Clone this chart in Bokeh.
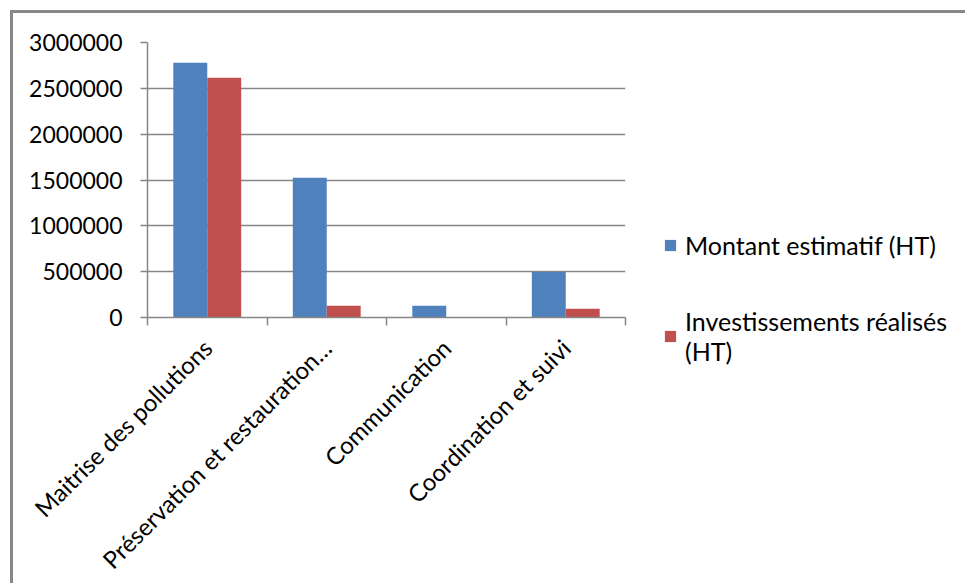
from bokeh.plotting import figure
from bokeh.models import (ColumnDataSource, Range1d, FixedTicker, NumeralTickFormatter,
                          Legend, LegendItem)
from bokeh.transform import dodge
from bokeh.embed import file_html
from bokeh.resources import INLINE
import math

categories = ["Maitrise des pollutions", "Préservation et restauration…",
              "Communication", "Coordination et suivi"]
montant = [2778000, 1524000, 127000, 497000]
investissements = [2615000, 127000, 0, 95000]
y_ticks = [0, 500000, 1000000, 1500000, 2000000, 2500000, 3000000]
series_names = ["Montant estimatif (HT)", "Investissements réalisés\n(HT)"]

BLUE = "#4F81BD"
RED = "#C0504D"
GRID = "#868686"
FONT = "Lato"

xs = [i + 0.5 for i in range(len(categories))]
src = ColumnDataSource(dict(x=xs, montant=montant, inv=investissements))

p = figure(frame_width=478, frame_height=275, output_backend="svg", toolbar_location=None,
           x_range=Range1d(0, len(categories)), y_range=Range1d(0, 3000000),
           min_border_left=134, min_border_right=330, min_border_top=29,
           min_border_bottom=250)
p.styles = {"border-left": "3px solid #878787", "border-top": "3px solid #878787",
            "margin-left": "10px", "margin-top": "10px"}
p.outline_line_color = None
p.background_fill_color = "white"
p.border_fill_color = "white"

r1 = p.vbar(x=dodge("x", -0.142, range=p.x_range), top="montant", width=0.284,
            source=src, fill_color=BLUE, line_color=None)
r2 = p.vbar(x=dodge("x", 0.142, range=p.x_range), top="inv", width=0.284,
            source=src, fill_color=RED, line_color=None)

# y axis
p.yaxis.ticker = FixedTicker(ticks=y_ticks)
p.yaxis.formatter = NumeralTickFormatter(format="0")
p.yaxis.axis_line_color = GRID
p.yaxis.axis_line_width = 1.5
p.yaxis.major_tick_line_color = GRID
p.yaxis.major_tick_line_width = 1.5
p.yaxis.major_tick_out = 7
p.yaxis.major_tick_in = 0
p.yaxis.minor_tick_line_color = None
p.yaxis.major_label_text_font = FONT
p.yaxis.major_label_text_font_size = "23px"
p.yaxis.major_label_text_color = "#000000"
p.yaxis.major_label_standoff = 18

# x axis
p.xaxis.ticker = FixedTicker(ticks=xs, minor_ticks=list(range(len(categories) + 1)))
p.xaxis.major_label_overrides = {x: c for x, c in zip(xs, categories)}
p.xaxis.major_tick_line_color = None
p.xaxis.minor_tick_line_color = GRID
p.xaxis.minor_tick_line_width = 1.5
p.xaxis.minor_tick_out = 8
p.xaxis.minor_tick_in = 0
p.xaxis.axis_line_color = GRID
p.xaxis.axis_line_width = 1.5
p.xaxis.major_label_orientation = math.pi / 4
p.xaxis.major_label_text_font = FONT
p.xaxis.major_label_text_font_size = "24px"
p.xaxis.major_label_text_color = "#000000"
p.xaxis.major_label_standoff = 18

p.xgrid.grid_line_color = None
p.ygrid.grid_line_color = GRID
p.ygrid.grid_line_width = 1.5

legend = Legend(items=[LegendItem(label=series_names[0], renderers=[r1]),
                       LegendItem(label=series_names[1], renderers=[r2])],
                location=(38, -49))
legend.label_text_font = FONT
legend.label_text_font_size = "25px"
legend.label_text_color = "#000000"
legend.label_text_line_height = 1.2
legend.glyph_width = 14
legend.glyph_height = 14
legend.spacing = 46
legend.border_line_color = None
legend.background_fill_alpha = 0
legend.label_standoff = 8
p.add_layout(legend, "right")

open("out.html", "w").write(file_html(p, INLINE))
